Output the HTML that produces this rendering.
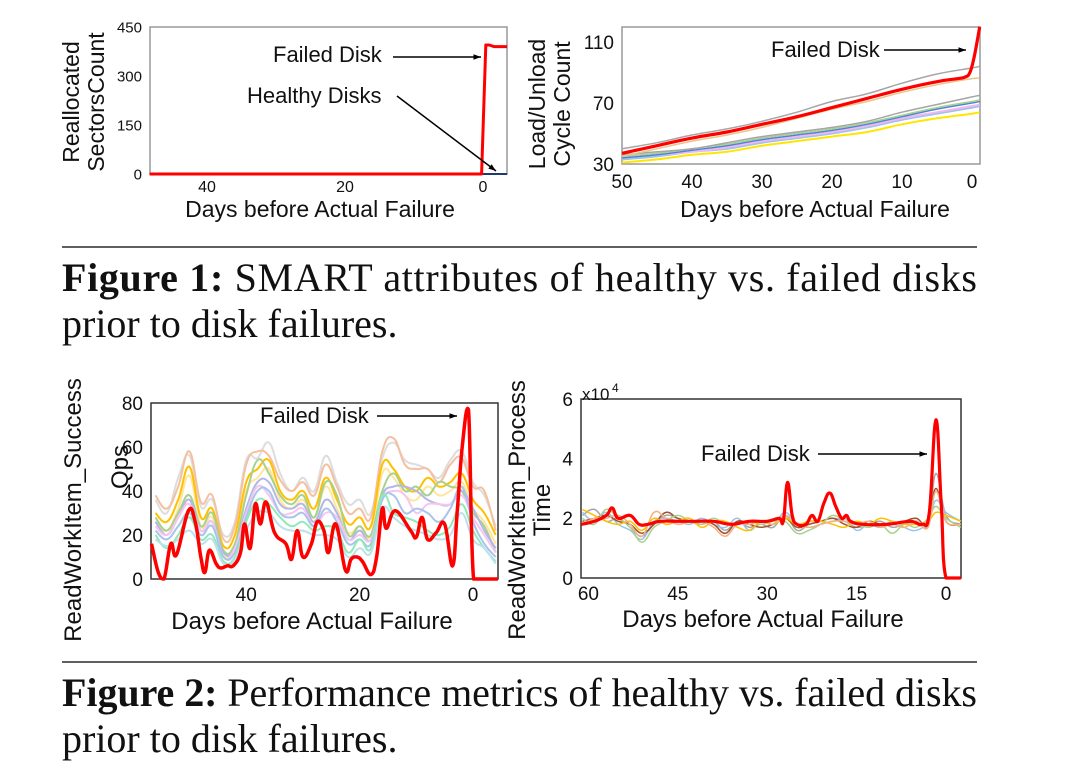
<!DOCTYPE html>
<html><head><meta charset="utf-8"><style>
body{margin:0;background:#fff;}
svg{display:block;font-family:"Liberation Sans",sans-serif;}
.cap{font-family:"Liberation Serif",serif;font-size:40px;fill:#111;}
</style></head><body>
<svg id="fig" width="1065" height="781" viewBox="0 0 1065 781">
<rect width="1065" height="781" fill="#fff"/>
<line x1="62" y1="247" x2="977" y2="247" stroke="#000" stroke-width="1.3"/>
<line x1="62" y1="662" x2="977" y2="662" stroke="#000" stroke-width="1.3"/>
<text class="cap" x="62" y="291" textLength="915" lengthAdjust="spacing"><tspan font-weight="bold">Figure 1:</tspan> SMART attributes of healthy vs. failed disks</text>
<text class="cap" x="62" y="337">prior to disk failures.</text>
<text class="cap" x="62" y="706" textLength="915" lengthAdjust="spacing"><tspan font-weight="bold">Figure 2:</tspan> Performance metrics of healthy vs. failed disks</text>
<text class="cap" x="62" y="752">prior to disk failures.</text>
</svg>
<script>
// ---------- Chart 1 data ----------
const c1Ticks = [0,150,300,450];
const c1XTicks = [40,20,0];
const c1RedDays = [48.3,0.2,-0.4,-0.9,-1.6,-3.5];
const c1RedVals = [0,0,395,395,390,390];
const c1HealthyDays = [48.3,-3.5];
const c1HealthyVals = [0,0];
// ---------- Chart 2 data ----------
const c2Ticks = [30,70,110];
const c2XTicks = [50,40,30,20,10,0];
const c2Days = [50,45,40,35,30,25,20,15,10,5,0,-1.1];
const c2Gray = [40,44,49,53,58,64,71,76,83,89,93,94];
const c2Tan = [35,40,45,49,54,60,66,71,77,82,86,86];
const c2Gray2 = [36,38,40,44,48,51,54,58,64,69,74,75];
const c2Green = [35,37,40,43,47,50,53,57,62,67,71,72];
const c2Blue = [34,36,39,42,46,49,52,56,61,66,70,71];
const c2Pink = [34,36,38,41,45,48,51,55,60,64,68,69];
const c2Cyan = [33,35,38,40,44,47,50,54,59,63,67,68];
const c2Yellow = [31,33,36,38,42,45,48,51,56,60,63,64];
const c2RedDays = [50,45,40,35,30,25,20,15,10,5,2,1,0.3,-0.3,-1.1];
const c2Red = [37,42,47,51,56,61,67,73,79,84,86,87,90,100,120];
// ---------- Chart 3 data ----------
const c3Ticks = [0,20,40,60,80];
const c3XTicks = [40,20,0];
const c3Days = [56,54,52,50,48,46,44,42,40,38,36,34,32,30,28,26,24,22,20,18,16,14,12,10,8,6,4,2,0,-2,-4];
const c3Gold  = [30,26,36,51,28,32,15,20,44,50,54,40,36,40,32,46,36,25,28,24,52,50,42,40,46,42,44,48,36,30,20];
const c3Peach = [38,32,42,58,35,38,18,24,52,58,56,45,40,44,38,52,42,30,32,28,58,64,52,50,50,44,52,55,42,40,22];
const c3LGray = [36,30,46,56,33,36,20,26,54,55,62,48,40,46,40,56,44,34,36,30,55,62,54,52,50,46,54,58,44,38,24];
const c3Green = [28,22,30,38,24,30,13,16,38,54,48,38,34,38,28,44,38,20,24,20,40,48,40,42,38,44,42,40,30,24,12];
const c3Purple= [26,20,28,36,22,26,12,14,32,44,44,34,32,34,26,36,30,18,22,18,38,42,42,40,36,34,34,40,32,22,14];
const c3Blue  = [22,18,24,30,20,24,10,12,28,40,40,30,28,30,24,32,26,16,18,16,36,38,30,32,30,26,32,42,26,16,10];
const c3Pink  = [24,20,28,34,22,26,10,14,30,42,38,30,30,32,24,30,28,18,20,18,36,40,38,30,34,34,34,38,28,20,12];
const c3Mint  = [20,14,20,28,18,20,8,10,26,36,34,28,24,26,22,24,22,12,18,14,38,30,28,26,22,20,24,34,22,14,8];
const c3Cyan  = [18,15,18,22,16,18,7,9,22,30,30,24,22,22,20,20,18,10,14,12,32,28,24,22,20,18,20,30,18,14,7];
const c3RedDays = [56.7,55.5,54.5,53.3,52.3,50.2,49,48,47.3,46.5,45.3,44.5,43.3,42.3,41,40.3,39.3,38.4,37.5,36.5,35,33,32,31,30,28.5,27.5,26.3,25.5,24.2,22.5,21.5,20.5,19.5,18,17,16,15.3,13.7,11,10,9,8,6.5,5,3.6,2.8,1.9,0.8,-0.1,-2,-4.4];
const c3Red = [16,3,0,16,11,31,26,10,3,13,7,5,6,6,12,25,14,34,25,35,21,16,9,22,10,16,26,22,12,25,4,9,10,8,2,10,32,23,31,22,19,28,18,21,25,6,30,60,77,0,0,0];
// ---------- Chart 4 data ----------
const c4Ticks = [0,2,4,6];
const c4XTicks = [60,45,30,15,0];
const c4Days = [61,59,57,55,53,51,49,47,45,43,41,39,37,35,33,31,29,27,25,23,21,19,17,15,13,11,9,7,5,3,1.7,0,-2.5];
const c4S1 = [2.1,2.3,1.9,2.0,1.7,1.4,1.8,2.1,2.0,1.9,1.8,1.9,1.6,1.9,1.7,1.8,1.7,2.1,1.6,1.8,1.9,2.0,1.9,1.7,1.8,1.9,1.7,1.8,1.9,1.8,3.5,2.1,1.8];
const c4S2 = [2.2,1.9,2.2,1.8,1.6,1.3,1.9,2.0,1.9,1.8,2.0,1.8,1.7,2.0,1.6,1.9,1.8,2.2,1.8,1.7,1.8,1.9,2.0,1.6,1.8,1.7,1.9,1.7,1.6,1.9,2.6,2.2,1.9];
const c4S3 = [1.9,2.0,2.1,1.9,1.8,1.5,1.8,2.2,2.0,1.9,1.9,1.8,1.5,1.9,1.8,1.7,1.8,2.0,1.7,1.8,1.9,2.0,1.8,1.7,1.9,1.8,1.8,1.9,2.0,1.8,3.0,1.9,1.8];
const c4S4 = [2.0,1.8,2.3,2.0,1.7,1.2,1.7,1.9,2.1,1.9,1.8,2.0,1.8,1.8,1.9,1.8,1.9,1.9,1.5,1.6,1.8,2.1,1.9,1.8,1.7,1.8,1.5,1.8,1.7,2.0,2.4,2.0,1.7];
const c4S5 = [2.3,2.1,1.9,1.8,1.9,1.6,2.0,1.8,1.9,2.0,1.7,1.9,1.9,1.7,1.6,1.9,1.8,2.0,1.8,1.9,1.9,1.8,1.7,1.9,1.8,2.0,1.9,1.8,1.8,1.9,2.2,2.1,1.9];
const c4S6 = [1.8,2.0,2.0,2.1,1.8,1.4,2.2,2.0,1.8,1.9,1.9,1.7,1.4,1.8,1.8,1.9,1.8,2.1,1.8,1.7,1.8,1.9,1.9,1.8,1.9,1.7,1.8,1.7,1.9,1.7,2.9,1.9,1.8];
const c4RedDays = [61.2,59,57,56,55,53,51.5,50,48,45,42,39,36,33,30,28,27.3,26.6,25.8,25,23.5,22.5,21.5,20.5,19.5,18.5,17.5,16.7,16,14,10,6,4,2.8,1.7,0.8,0,-2.5];
const c4Red = [1.8,1.9,2.1,2.35,2.0,2.1,1.8,1.8,1.9,1.9,1.9,1.9,1.8,1.9,1.9,2.0,1.9,3.2,2.1,1.8,1.8,2.1,1.9,2.5,2.85,2.4,2.0,2.1,1.9,1.8,1.8,1.9,1.8,2.2,5.3,2.5,0,0];

const NS='http://www.w3.org/2000/svg';
const svg=document.getElementById('fig');
function mk(tag,attrs,parent){const e=document.createElementNS(NS,tag);for(const k in attrs)e.setAttribute(k,attrs[k]);(parent||svg).appendChild(e);return e;}
function txt(x,y,s,size,parent,extra){const t=mk('text',Object.assign({x:x,y:y,'font-size':size,fill:'#111'},extra||{}),parent);t.textContent=s;return t;}
function smooth(pts,minY,maxY){
  let d='M'+pts[0][0].toFixed(1)+','+pts[0][1].toFixed(1);
  for(let i=0;i<pts.length-1;i++){
    const p0=pts[i-1]||pts[i],p1=pts[i],p2=pts[i+1],p3=pts[i+2]||p2;
    const t=0.2;
    let c1y=p1[1]+(p2[1]-p0[1])*t, c2y=p2[1]-(p3[1]-p1[1])*t;
    c1y=Math.min(maxY,Math.max(minY,c1y));c2y=Math.min(maxY,Math.max(minY,c2y));
    d+='C'+(p1[0]+(p2[0]-p0[0])*t).toFixed(1)+','+c1y.toFixed(1)+' '+(p2[0]-(p3[0]-p1[0])*t).toFixed(1)+','+c2y.toFixed(1)+' '+p2[0].toFixed(1)+','+p2[1].toFixed(1);
  }
  return d;
}
function chart(cfg){
  const g=mk('g',{});
  
  
  const X=d=>cfg.x0+(cfg.d0-d)*cfg.pxDay, Y=v=>cfg.yb-(v-cfg.vmin)*(cfg.yb-cfg.yt)/(cfg.vmax-cfg.vmin);
  const box=mk('rect',{x:cfg.L,y:cfg.T,width:cfg.R-cfg.L,height:cfg.B-cfg.T,fill:'none',stroke:cfg.boxColor,'stroke-width':1.5},g);
  
  
  cfg.ticks.forEach(v=>{const t=txt(cfg.L-8,Y(v)+cfg.tickSize*0.36,String(v),cfg.tickSize,g,{'text-anchor':'end'});
    
    });
  cfg.xticks.forEach(v=>{const t=txt(X(v),cfg.B+cfg.xtOff,String(v),cfg.xtickSize||cfg.tickSize,g,{'text-anchor':'middle'});
    
    });
  cfg.series.forEach(s=>{
    const pts=s.days.map((d,i)=>[X(d),Y(s.vals[i])]);
    const p=mk('path',{d:s.linear?'M'+pts.map(p=>p[0].toFixed(1)+','+p[1].toFixed(1)).join('L'):smooth(pts,cfg.T,Y(cfg.vmin)),fill:'none',stroke:s.color,'stroke-width':s.w,'stroke-linejoin':'round'},g);
    
    
  });
  const xt=txt(cfg.xtitleX,cfg.xtitleY,'Days before Actual Failure',cfg.titleSize,g,{'text-anchor':'middle'});
  
  
  cfg.ylab.forEach(l=>{const t=txt(0,0,l[0],cfg.titleSize,g,{'text-anchor':'middle',transform:'translate('+l[1]+','+l[2]+') rotate(-90)'});
    
    });
  return {g,X,Y};
}
function arrow(g,x1,y1,x2,y2){
  const l=mk('line',{x1,y1,x2,y2,stroke:'#000','stroke-width':1.5},g);
  
  
  const a=Math.atan2(y2-y1,x2-x1),s=8;
  const h=mk('polygon',{points:x2+','+y2+' '+(x2-s*Math.cos(a-0.35))+','+(y2-s*Math.sin(a-0.35))+' '+(x2-s*Math.cos(a+0.35))+','+(y2-s*Math.sin(a+0.35)),fill:'#000'},g);
  
  
}
function label(g,x,y,s){const t=txt(x,y,s,22,g);}

// Chart 1
const c1=chart({name:'reallocated-sectors-chart',L:150,R:507,T:27,B:174,x0:483,d0:0,pxDay:6.9,yb:174,yt:27,vmin:0,vmax:450,boxColor:'#999',
 ticks:c1Ticks,xticks:c1XTicks,tickSize:15,xtickSize:16,xtOff:18,xtitleX:320,xtitleY:217,titleSize:23,
 ylab:[['Reallocated',79,102],['SectorsCount',104,102]],
 series:[{name:'healthy-disks-line',days:c1HealthyDays,vals:c1HealthyVals,color:'#1F3A6E',w:2,linear:true},
         {name:'failed-disk-line',days:c1RedDays,vals:c1RedVals,color:'#FF0000',w:3,linear:true}]});
label(c1.g,273,62,'Failed Disk');arrow(c1.g,393,57,481,57);
label(c1.g,247,103,'Healthy Disks');arrow(c1.g,397,96,496,171);

// Chart 2
const c2=chart({name:'load-unload-cycle-chart',L:622,R:980,T:27,B:164,x0:972,d0:0,pxDay:7,yb:164,yt:103,vmin:30,vmax:70,boxColor:'#999',
 ticks:c2Ticks,xticks:c2XTicks,tickSize:19,xtOff:24,xtitleX:815,xtitleY:217,titleSize:23,
 ylab:[['Load/Unload',545,104],['Cycle Count',570,104]],
 series:[{name:'healthy-yellow',days:c2Days,vals:c2Yellow,color:'#FFE600',w:2},
   {name:'healthy-cyan',days:c2Days,vals:c2Cyan,color:'#9DC3E6',w:2},
   {name:'healthy-pink',days:c2Days,vals:c2Pink,color:'#F4B6F0',w:2},
   {name:'healthy-blue',days:c2Days,vals:c2Blue,color:'#4A86D8',w:1.5},
   {name:'healthy-green',days:c2Days,vals:c2Green,color:'#A9D18E',w:1.5},
   {name:'healthy-gray-2',days:c2Days,vals:c2Gray2,color:'#A6A6A6',w:1.5},
   {name:'healthy-tan',days:c2Days,vals:c2Tan,color:'#E8C58A',w:1.5},
   {name:'healthy-gray',days:c2Days,vals:c2Gray,color:'#A6A6A6',w:1.5},
   {name:'failed-disk-line',days:c2RedDays,vals:c2Red,color:'#FF0000',w:3.2}]});
label(c2.g,771,57,'Failed Disk');arrow(c2.g,884,50,966,50);

// Chart 3
const c3=chart({name:'read-success-qps-chart',L:151,R:498,T:403,B:579,x0:473,d0:0,pxDay:5.67,yb:579,yt:403,vmin:0,vmax:80,boxColor:'#333',
 ticks:c3Ticks,xticks:c3XTicks,tickSize:19,xtOff:22,xtitleX:312,xtitleY:629,titleSize:24,
 ylab:[['ReadWorkItem_Success',81,510],['Qps',128,467]],
 series:[{name:'healthy-lightgray',days:c3Days,vals:c3LGray,color:'#DDDDDD',w:2},
  {name:'healthy-peach',days:c3Days,vals:c3Peach,color:'#F4C0A0',w:2},
  {name:'healthy-lightyellow',days:c3Days,vals:c3Gold.map(v=>v-4),color:'#FFE699',w:2},
  {name:'healthy-gold',days:c3Days,vals:c3Gold,color:'#FFC000',w:2},
  {name:'healthy-green',days:c3Days,vals:c3Green,color:'#A9D18E',w:2},
  {name:'healthy-purple',days:c3Days,vals:c3Purple,color:'#B4B7E6',w:2},
  {name:'healthy-pink',days:c3Days,vals:c3Pink,color:'#F4C6F0',w:2},
  {name:'healthy-blue',days:c3Days,vals:c3Blue,color:'#A9C4EB',w:2},
  {name:'healthy-mint',days:c3Days,vals:c3Mint,color:'#8FEAB8',w:2},
  {name:'healthy-cyan',days:c3Days,vals:c3Cyan,color:'#BDE0EE',w:2},
  {name:'failed-disk-line',days:c3RedDays,vals:c3Red,color:'#FF0000',w:3.5}]});
label(c3.g,260,423,'Failed Disk');arrow(c3.g,377,416,457,416);

// Chart 4
const c4=chart({name:'read-process-time-chart',L:581,R:961,T:399,B:578,x0:946,d0:0,pxDay:5.96,yb:578,yt:399,vmin:0,vmax:6,boxColor:'#333',
 ticks:c4Ticks,xticks:c4XTicks,tickSize:19,xtOff:22,xtitleX:763,xtitleY:627,titleSize:24,
 ylab:[['ReadWorkItem_Process',525,510],['Time',550,510]],
 series:[{name:'healthy-series-1',days:c4Days,vals:c4S1,color:'#A6A6A6',w:1.5},
  {name:'healthy-series-2',days:c4Days,vals:c4S2,color:'#9DC3E6',w:1.5},
  {name:'healthy-series-3',days:c4Days,vals:c4S3,color:'#A0522D',w:1.5},
  {name:'healthy-series-4',days:c4Days,vals:c4S4,color:'#A9D18E',w:1.5},
  {name:'healthy-series-5',days:c4Days,vals:c4S5,color:'#FFC000',w:1.5},
  {name:'healthy-series-6',days:c4Days,vals:c4S6,color:'#F4B183',w:1.5},
  {name:'failed-disk-line',days:c4RedDays,vals:c4Red,color:'#FF0000',w:3.2}]});
const xe=txt(582,400,'x10',17,c4.g);
const xe2=txt(612,392,'4',12,c4.g);
label(c4.g,701,461,'Failed Disk');arrow(c4.g,818,454,927,454);
</script>
</body></html>
